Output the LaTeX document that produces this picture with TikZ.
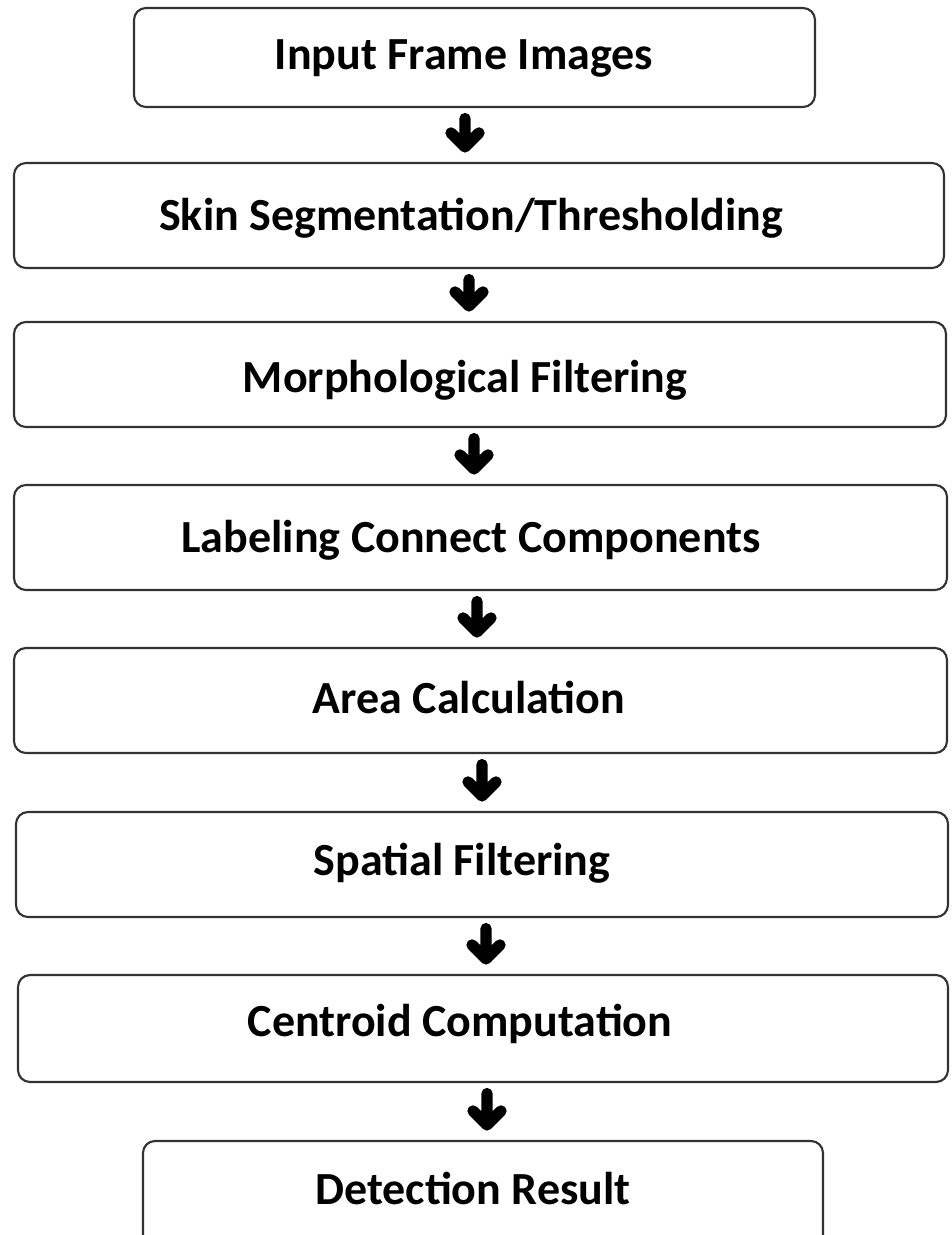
\documentclass[tikz,border=0pt]{standalone}
\usepackage{fontspec}
\setmainfont{Carlito}
\usetikzlibrary{calc,fit}
\begin{document}
\begin{tikzpicture}[x=0.75pt,y=-0.75pt,
  box/.style={draw=black!80,line width=1.6pt,rounded corners=9pt,inner sep=0pt,fill=white},
  txt/.style={anchor=base,inner sep=0pt,font=\fontsize{34.5}{37}\selectfont\bfseries},
  flowarr/.style={line width=8.5pt,line cap=round,line join=round,black}]
\useasboundingbox[fill=white] (0,0) rectangle (952,1235);
\begin{scope}
\clip (0,0) rectangle (952,1235);
\node[box,fit={(134,8) (815,107)}] (b1) {};
\node[box,fit={(14,163) (944,268)}] (b2) {};
\node[box,fit={(14,322) (946,427)}] (b3) {};
\node[box,fit={(14,485) (947,590)}] (b4) {};
\node[box,fit={(14,648) (947,753)}] (b5) {};
\node[box,fit={(16,812) (948,917)}] (b6) {};
\node[box,fit={(18,975) (948,1082)}] (b7) {};
\node[box,fit={(143,1141) (823,1250)}] (b8) {};
\end{scope}
\node[txt] (t1) at (464,69) {Input Frame Images};
\node[txt] (t2) at (471,230) {Skin Segmentation/Thresholding};
\node[txt] (t3) at (465,392) {Morphological Filtering};
\node[txt] (t4) at (471,552) {Labeling Connect Components};
\node[txt] (t5) at (469,713) {Area Calculation};
\node[txt] (t6) at (462,875) {Spatial Filtering};
\node[txt] (t7) at (460,1036) {Centroid Computation};
\node[txt] (t8) at (473,1204) {Detection Result};
\foreach \a/\b/\x in {b1/b2/465,b2/b3/469,b3/b4/474,b4/b5/477,b5/b6/482,b6/b7/486,b7/b8/487}{
  \coordinate (s) at ($(\x,0 |- \a.south)+(0,10.5)$);
  \coordinate (e) at ($(\x,0 |- \b.north)+(0,-15)$);
  \draw[flowarr] (s) -- (e) ($(e)+(-14,-14)$) -- (e) -- ++(14,-14);
}
\end{tikzpicture}
\end{document}
